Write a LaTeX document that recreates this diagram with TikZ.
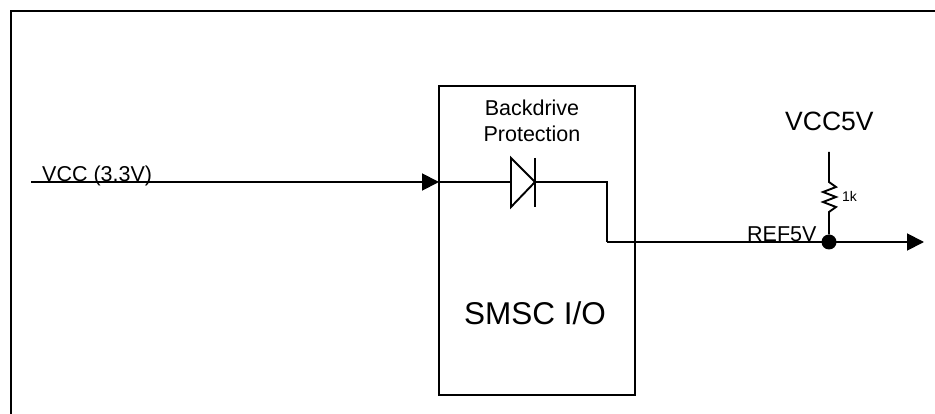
\documentclass[tikz,border=0pt]{standalone}
\usepackage{fontspec}
\setmainfont{Liberation Sans}
\usetikzlibrary{positioning, arrows.meta}

\tikzset{
    wire/.style={line width=1.9pt},
    sig/.style={wire, -{Triangle[length=17pt,width=17pt]}},
    lbl/.style={inner sep=0pt, anchor=base west, font=\fontsize{21.5}{26}\selectfont},
}

\begin{document}
\begin{tikzpicture}[x=1pt, y=-1pt, >=stealth]
    \useasboundingbox (0,0) rectangle (935,414);

    \coordinate (fbl) at (11,414);
    \coordinate (ftl) at (11,11);
    \coordinate (ftr) at (935,11);
    \draw[line width=2.4pt] (fbl) -- (ftl) -- (ftr);

    \node (smsc) [draw, line width=1.9pt, outer sep=0pt, minimum width=196pt, minimum height=309pt] at (537,240.5) {};
    \node (smsclbl) [lbl, font=\fontsize{31.5}{36}\selectfont] at (464,324) {SMSC I/O};
    \node (back) [lbl, anchor=base, align=center] at (532,142) {Backdrive\\Protection};

    \coordinate (vcc) at (31,182);
    \coordinate (pin) at (smsc.west |- vcc);
    \coordinate (dioa) at (511,182);
    \coordinate (dioc) at (535,182);
    \coordinate (ctop) at (535,158);
    \coordinate (cbot) at (535,207);
    \coordinate (atop) at (511,158);
    \coordinate (abot) at (511,207);
    \coordinate (bend) at (607,182);
    \coordinate (bend2) at (607,242);
    \coordinate (out) at (924,242);

    \node (vcclbl) [lbl] at (42,182) {VCC (3.3V)};
    \node (reflbl) [lbl] at (747,242) {REF5V};
    \node (vcc5) [lbl, font=\fontsize{26.5}{30}\selectfont] at (785,131) {VCC5V};
    \node (rval) [lbl, font=\fontsize{14}{16}\selectfont] at (842,202) {1k};

    \draw[sig] (vcc) -- (pin);
    \draw[wire] (pin) -- (dioa);
    \draw[wire, line join=miter] (atop) -- (dioc) -- (abot) -- cycle;
    \draw[wire] (ctop) -- (cbot);
    \draw[wire] (dioc) -- (bend) -- (bend2);
    \draw[sig] (bend2) -- (out);

    \node (junc) [circle, fill, inner sep=0pt, minimum size=15pt] at (829,242) {};
    \coordinate (rtop) at (829,152);
    \draw[wire, line join=miter] (rtop) -- (829,182) -- (836,187) -- (823,192) -- (836,197)
        -- (823,202) -- (836,207) -- (829,212) -- (junc);
\end{tikzpicture}
\end{document}
